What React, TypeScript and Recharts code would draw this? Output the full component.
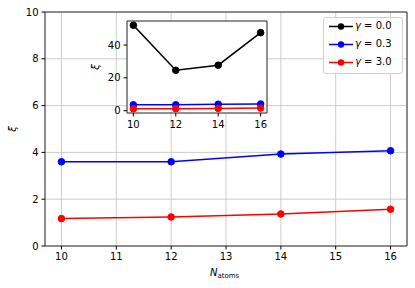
import React from 'react';
import { LineChart, Line, XAxis, YAxis, CartesianGrid, ReferenceArea } from 'recharts';

const natoms = [10, 12, 14, 16];
const xiGamma00 = [52.0, 24.6, 27.7, 47.5];
const xiGamma03 = [3.6, 3.6, 3.93, 4.07];
const xiGamma30 = [1.17, 1.24, 1.37, 1.57];
const seriesKeys = ['g0', 'g1', 'g2'];
const seriesLabels = ['0.0', '0.3', '3.0'];
const seriesColors = ['#000000', '#0000ff', '#ff0000'];
const mainXTicks = [10, 11, 12, 13, 14, 15, 16];
const mainYTicks = [0, 2, 4, 6, 8, 10];
const insetXTicks = [10, 12, 14, 16];
const insetYTicks = [0, 20, 40];

const data = natoms.map((n, i) => ({ n, g0: xiGamma00[i], g1: xiGamma03[i], g2: xiGamma30[i] }));

const FONT = '"DejaVu Sans", sans-serif';
const tickStyle = { fontSize: 10, fill: '#000', fontFamily: FONT };

const LegendBox = () => (
  <div
    style={{
      position: 'absolute',
      left: 323,
      top: 17,
      width: 78,
      height: 55,
      border: '1px solid #d0d0d0',
      borderRadius: 3,
      background: 'rgba(255,255,255,0.85)',
      fontFamily: FONT,
      fontSize: 10,
      boxSizing: 'content-box',
    }}
  >
    {seriesLabels.map((lab, i) => (
      <div key={lab} style={{ position: 'relative', height: 18, marginTop: i === 0 ? 0 : 0 }}>
        <svg width={30} height={18} style={{ position: 'absolute', left: 3, top: 0 }}>
          <line x1={2} x2={26} y1={8.5} y2={8.5} stroke={seriesColors[i]} strokeWidth={1.5} />
          <circle cx={14} cy={8.5} r={3.2} fill={seriesColors[i]} />
        </svg>
        <span style={{ position: 'absolute', left: 31, top: 1, lineHeight: '14px', whiteSpace: 'nowrap' }}>
          <i>γ</i> = {lab}
        </span>
      </div>
    ))}
  </div>
);

export default function App() {
  return (
    <div style={{ position: 'absolute', left: 0, top: 0, width: 415, height: 288, background: '#fff' }}>
      <LineChart width={415} height={288} data={data} margin={{ top: 12, right: 8, bottom: 12, left: 5 }}>
        <CartesianGrid stroke="#cccccc" strokeWidth={1} />
        <XAxis
          dataKey="n"
          type="number"
          domain={[9.7, 16.3]}
          ticks={mainXTicks}
          height={30}
          tick={tickStyle}
          tickSize={3.5}
          tickMargin={3}
          tickLine={{ stroke: '#000' }}
          axisLine={false}
          interval={0}
          label={{
            content: (props: any) => {
              const vb = props.viewBox || {};
              const cx = (vb.x || 45) + (vb.width || 362) / 2;
              return (
                <text x={cx - 16} y={276} fontFamily={FONT} fontSize={10} fill="#000">
                  <tspan fontStyle="italic">N</tspan>
                  <tspan fontSize={7} dy={2}>atoms</tspan>
                </text>
              );
            },
          }}
        />
        <YAxis
          type="number"
          domain={[0, 10]}
          ticks={mainYTicks}
          width={40}
          allowDataOverflow
          tick={tickStyle}
          tickSize={3.5}
          tickMargin={3}
          tickLine={{ stroke: '#000' }}
          axisLine={false}
          interval={0}
          label={{
            content: () => (
              <text x={16} y={129} transform="rotate(-90 16 129)" textAnchor="middle" fontFamily={FONT} fontSize={10} fontStyle="italic" fill="#000">
                ξ
              </text>
            ),
          }}
        />
        <ReferenceArea x1={9.7} x2={16.3} y1={0} y2={10} fill="none" stroke="#333" strokeWidth={1} fillOpacity={0} />
        {seriesKeys.map((k, i) => (
          <Line
            key={k}
            dataKey={k}
            stroke={seriesColors[i]}
            strokeWidth={1.5}
            dot={{ r: 3.3, fill: seriesColors[i], stroke: seriesColors[i], strokeWidth: 1 }}
            activeDot={false}
            isAnimationActive={false}
          />
        ))}
      </LineChart>

      <LegendBox />

      <div style={{ position: 'absolute', left: 127, top: 21, width: 140, height: 92, background: '#fff' }} />
      <div style={{ position: 'absolute', left: 90, top: 10 }}>
        <LineChart width={185} height={125} data={data} margin={{ top: 11, right: 8, bottom: 0, left: 0 }}>
          <XAxis
            dataKey="n"
            type="number"
            domain={[9.7, 16.3]}
            ticks={insetXTicks}
            height={22}
            tick={tickStyle}
            tickSize={3.5}
            tickMargin={4.5}
            tickLine={{ stroke: '#000' }}
            axisLine={false}
            interval={0}
          />
          <YAxis
            type="number"
            domain={[-1.4, 54.6]}
            ticks={insetYTicks}
            width={37}
            tick={tickStyle}
            tickSize={3.5}
            tickMargin={3}
            tickLine={{ stroke: '#000' }}
            axisLine={false}
            interval={0}
            label={{
              content: () => (
                <text x={9} y={57} transform="rotate(-90 9 57)" textAnchor="middle" fontFamily={FONT} fontSize={10} fontStyle="italic" fill="#000">
                  ξ
                </text>
              ),
            }}
          />
          <ReferenceArea x1={9.7} x2={16.3} y1={-1.4} y2={54.6} fill="none" stroke="#222" strokeWidth={1} fillOpacity={0} />
          {seriesKeys.map((k, i) => (
            <Line
              key={k}
              dataKey={k}
              stroke={seriesColors[i]}
              strokeWidth={1.5}
              dot={{ r: 3.3, fill: seriesColors[i], stroke: seriesColors[i], strokeWidth: 1 }}
              activeDot={false}
              isAnimationActive={false}
            />
          ))}
        </LineChart>
      </div>
    </div>
  );
}
